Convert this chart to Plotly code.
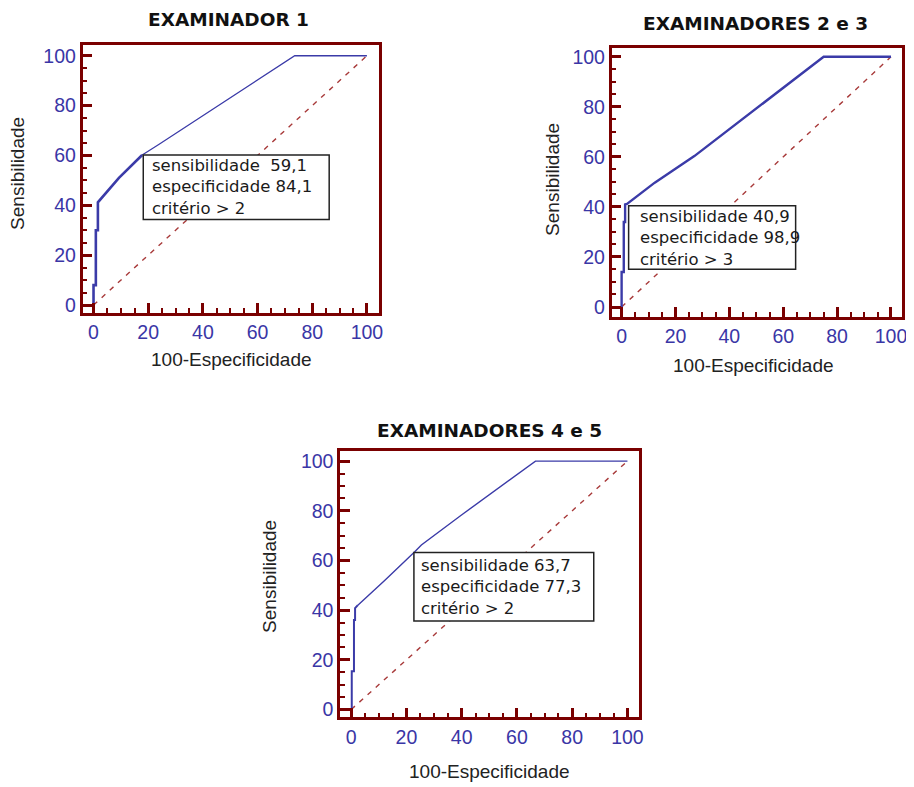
import plotly.graph_objects as go

# The page places the figure with an 8px body margin, so the figure is
# sized and positioned to land on the 914x787 window exactly.
OFF = 8
W, H = 914 - OFF, 787 - OFF

# ---- data ----
titles = ["EXAMINADOR 1", "EXAMINADORES 2 e 3", "EXAMINADORES 4 e 5"]
x_title = "100-Especificidade"
y_title = "Sensibilidade"
tick_vals = [0, 20, 40, 60, 80, 100]

diag_x = [0, 100]
diag_y = [0, 100]

ex1_a_x = [0, 0, 0.85, 0.85, 1.6, 1.6, 9.3, 17.8]
ex1_a_y = [0, 8, 8, 30, 30, 41.2, 51, 60.2]
ex1_b_x = [17.8, 24, 73.6, 100]
ex1_b_y = [60.2, 64.5, 100, 100]

ex2_x = [0, 0, 0.8, 0.8, 1.3, 1.3, 2, 12.3, 27, 45.5, 75, 100]
ex2_y = [0, 14, 14, 34, 34, 41, 41.2, 49.7, 60.3, 75.5, 100, 100]

ex3_a_x = [0, 0.2, 0.2, 1, 1, 1.4, 1.4, 2.4]
ex3_a_y = [0, 0, 15.4, 15.4, 36, 36, 40.8, 42]
ex3_b_x = [2.4, 12.2, 23, 25.4, 39.8, 66.7, 100]
ex3_b_y = [42, 52, 63.5, 66.2, 78.2, 100, 100]

box_texts = [
    "sensibilidade  59,1<br>especificidade 84,1<br>critério > 2",
    "sensibilidade 40,9<br>especificidade 98,9<br>critério > 3",
    "sensibilidade 63,7<br>especificidade 77,3<br>critério > 2",
]

# ---- style ----
FRAME = "#7a0000"
CURVE = "#3b3ba8"
DIAG = "#a83a3a"
TICKLAB = "#3a36a6"

# panel pixel geometry (window pixels): frame left, right, top, bottom
panels = [
    dict(l=83, r=381, t=43, b=313, xr=[-4, 104.4], yr=[-3.2, 104.4]),
    dict(l=615, r=907, t=46, b=317, xr=[-3.7, 104.1], yr=[-4, 103.6]),
    dict(l=342, r=642, t=452, b=720, xr=[-4, 104], yr=[-3.2, 104]),
]

fig = go.Figure()

def px(x):
    return (x - OFF) / W

def py(y):
    return 1 - (y - OFF) / H

curves = [
    [(ex1_a_x, ex1_a_y, 2.6), (ex1_b_x, ex1_b_y, 1.3)],
    [(ex2_x, ex2_y, 2.4)],
    [(ex3_a_x, ex3_a_y, 2.0), (ex3_b_x, ex3_b_y, 1.4)],
]

layout_axes = {}
for i, p in enumerate(panels):
    n = "" if i == 0 else str(i + 1)
    xa, ya = "x" + n, "y" + n
    fig.add_trace(go.Scatter(x=diag_x, y=diag_y, mode="lines", xaxis=xa, yaxis=ya,
                             line=dict(color=DIAG, width=1.4, dash="5px,6px"),
                             showlegend=False, hoverinfo="skip"))
    for cx, cy, w in curves[i]:
        fig.add_trace(go.Scatter(x=cx, y=cy, mode="lines", xaxis=xa, yaxis=ya,
                                 line=dict(color=CURVE, width=w),
                                 showlegend=False))
    common = dict(showline=True, linecolor=FRAME, linewidth=2.6, mirror=True,
                  showgrid=False, zeroline=False, ticks="inside", ticklen=10,
                  tickwidth=2.5, tickcolor=FRAME, tickvals=tick_vals,
                  tickfont=dict(family="Liberation Sans, Arial", size=19.5, color=TICKLAB),
                  minor=dict(ticks="inside", dtick=5, ticklen=5, tickwidth=1.6,
                             tickcolor=FRAME, showgrid=False),
                  fixedrange=True)
    layout_axes["xaxis" + n] = dict(common, domain=[px(p["l"]), px(p["r"])],
                                    range=p["xr"], anchor=ya)
    layout_axes["yaxis" + n] = dict(common, domain=[py(p["b"]), py(p["t"])],
                                    range=p["yr"], anchor=xa)

fig.update_layout(**layout_axes)

# text boxes (data coords of each panel)
boxes = [
    dict(x0=18.2, x1=86.2, y0=34.3, y1=60.2, tx=20.8, ty=47.4),
    dict(x0=2.6, x1=64.6, y0=15.1, y1=40.5, tx=6.0, ty=27.6),
    dict(x0=22.7, x1=87.8, y0=35.6, y1=63.2, tx=24.6, ty=49.2),
]
for i, b in enumerate(boxes):
    n = "" if i == 0 else str(i + 1)
    fig.add_shape(type="rect", xref="x" + n, yref="y" + n,
                  x0=b["x0"], x1=b["x1"], y0=b["y0"], y1=b["y1"],
                  line=dict(color="#222222", width=1.5), fillcolor="white", layer="above")
    fig.add_annotation(xref="x" + n, yref="y" + n, x=b["tx"], y=b["ty"],
                       text=box_texts[i], showarrow=False, xanchor="left", yanchor="middle",
                       align="left",
                       font=dict(family="DejaVu Sans", size=16.5, color="#1a1a1a"))

# titles and axis titles in window pixel positions
title_pos = [(230, 18), (760, 22), (492, 431)]
xt_pos = [(233, 360), (758, 366), (492, 774)]
yt_pos = [(18, 172), (556, 178), (271, 578)]
for i in range(3):
    fig.add_annotation(xref="paper", yref="paper", x=px(title_pos[i][0]), y=py(title_pos[i][1]),
                       text="<b>" + titles[i] + "</b>", showarrow=False,
                       xanchor="center", yanchor="middle",
                       font=dict(family="DejaVu Sans", size=18.5, color="#111111"))
    fig.add_annotation(xref="paper", yref="paper", x=px(xt_pos[i][0]), y=py(xt_pos[i][1]),
                       text=x_title, showarrow=False, xanchor="center", yanchor="middle",
                       font=dict(family="Liberation Sans, Arial", size=19, color="#222222"))
    fig.add_annotation(xref="paper", yref="paper", x=px(yt_pos[i][0]), y=py(yt_pos[i][1]),
                       text=y_title, showarrow=False, xanchor="center", yanchor="middle",
                       textangle=-90,
                       font=dict(family="Liberation Sans, Arial", size=19, color="#222222"))

fig.update_layout(width=W, height=H, margin=dict(l=0, r=0, t=0, b=0),
                  paper_bgcolor="white", plot_bgcolor="white", showlegend=False)

fig.write_html("out.html", config={"displayModeBar": False})
